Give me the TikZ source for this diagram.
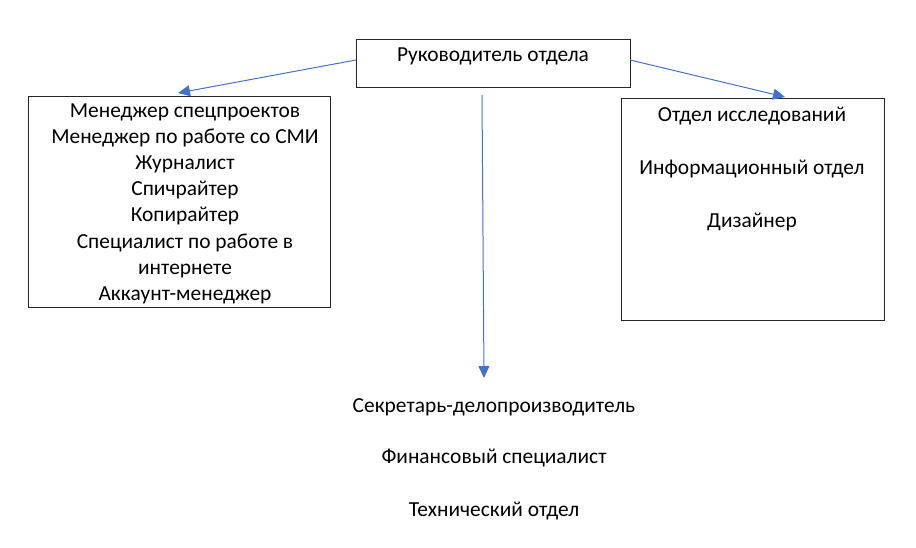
\documentclass[tikz,border=0pt]{standalone}
\usepackage{fontspec}
\setmainfont{Carlito}
\usetikzlibrary{arrows.meta}
\definecolor{arrblue}{HTML}{4472C4}
\tikzset{
  box/.style={draw=black!85, line width=1pt},
  lbl/.style={font=\fontsize{21.4}{24}\selectfont, inner sep=0pt, anchor=base},
  conn/.style={draw=arrblue, line width=1pt, -{Triangle[length=12pt,width=11pt]}}
}
\begin{document}
\begin{tikzpicture}[x=1pt,y=-1pt]
\useasboundingbox (0,0) rectangle (916,548);
\fill[white] (0,0) rectangle (916,548);
% boxes
\draw[box] (356,40) rectangle (630,88);
\draw[box] (28,97) rectangle (330,307);
\draw[box] (621,99) rectangle (884,320);
% texts (baselines)
\node[lbl] (head) at (493,62) {Руководитель отдела};
\node[lbl] (l1) at (185,118) {Менеджер спецпроектов};
\node[lbl] (l2) at (185,144) {Менеджер по работе со СМИ};
\node[lbl] (l3) at (185,170) {Журналист};
\node[lbl] (l4) at (185,196) {Спичрайтер};
\node[lbl] (l5) at (185,222) {Копирайтер};
\node[lbl] (l6) at (185,249) {Специалист по работе в};
\node[lbl] (l7) at (185,275) {интернете};
\node[lbl] (l8) at (185,301) {Аккаунт-менеджер};
\node[lbl] (r1) at (752,122) {Отдел исследований};
\node[lbl] (r2) at (752,175) {Информационный отдел};
\node[lbl] (r3) at (752,228) {Дизайнер};
\node[lbl] (b1) at (494,412) {Секретарь-делопроизводитель};
\node[lbl] (b2) at (494,463) {Финансовый специалист};
\node[lbl] (b3) at (494,516) {Технический отдел};
% connector ends
\coordinate (sL) at (356,60);
\coordinate (eL) at (178,93);
\coordinate (sR) at (630,60);
\coordinate (eR) at (785,97);
\coordinate (sD) at (482,95);
\coordinate (eD) at (484,378);
\draw[conn] (sL) -- (eL);
\draw[conn] (sR) -- (eR);
\draw[conn] (sD) -- (eD);
\end{tikzpicture}
\end{document}
